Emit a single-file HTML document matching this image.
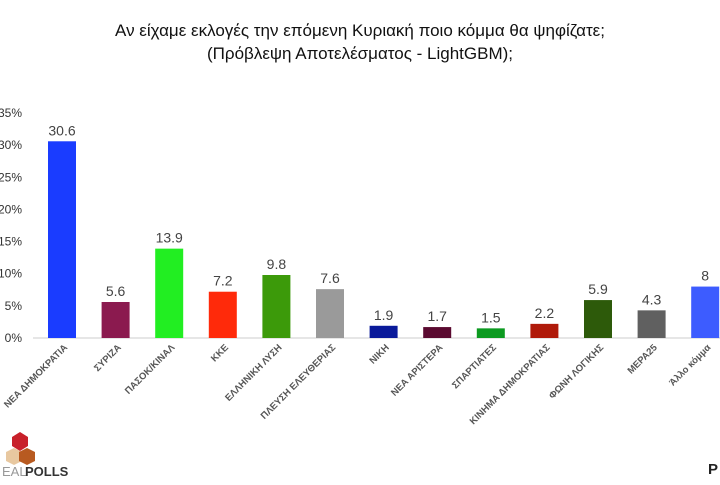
<!DOCTYPE html>
<html><head><meta charset="utf-8">
<style>
body{margin:0;background:#fff;width:720px;height:480px;overflow:hidden;font-family:"Liberation Sans",sans-serif;}
</style></head><body>
<svg id="c" width="720" height="480">
<text x="360" y="36" text-anchor="middle" font-size="17" fill="#111">Αν είχαμε εκλογές την επόμενη Κυριακή ποιο κόμμα θα ψηφίζατε;</text>
<text x="360" y="59" text-anchor="middle" font-size="17" fill="#111">(Πρόβλεψη Αποτελέσματος - LightGBM);</text>
<g id="axis"></g><g id="bars"></g>
<g>
<polygon points="20,432 28,437 28,446 20,451 12,446 12,437" fill="#c8202a"/>
<polygon points="14,448 22,452 22,461 14,465 6,461 6,452" fill="#e8c8a0"/>
<polygon points="27,448 35,452 35,461 27,465 19,461 19,452" fill="#b85a20"/>
<text x="2" y="476" font-size="13" fill="#999">EAL</text><text x="25" y="476" font-size="13" font-weight="bold" fill="#333">POLLS</text>
</g>
<text x="708" y="474" font-size="15" font-weight="bold" fill="#222">P</text>
</svg>
<script>
const categories=["ΝΕΑ ΔΗΜΟΚΡΑΤΙΑ","ΣΥΡΙΖΑ","ΠΑΣΟΚ/ΚΙΝΑΛ","ΚΚΕ","ΕΛΛΗΝΙΚΗ ΛΥΣΗ","ΠΛΕΥΣΗ ΕΛΕΥΘΕΡΙΑΣ","ΝΙΚΗ","ΝΕΑ ΑΡΙΣΤΕΡΑ","ΣΠΑΡΤΙΑΤΕΣ","ΚΙΝΗΜΑ ΔΗΜΟΚΡΑΤΙΑΣ","ΦΩΝΗ ΛΟΓΙΚΗΣ","ΜΕΡΑ25","Άλλο κόμμα"];
const values=[30.6,5.6,13.9,7.2,9.8,7.6,1.9,1.7,1.5,2.2,5.9,4.3,8];
const valueLabels=["30.6","5.6","13.9","7.2","9.8","7.6","1.9","1.7","1.5","2.2","5.9","4.3","8"];
const colors=["#1a3cff","#8b1a4f","#22ee22","#ff2a0a","#3c9a0a","#9a9a9a","#0a1a9a","#5a0a30","#0c9a20","#b01a0a","#2d5a0a","#606060","#3d5cff"];
const ticks=[0,5,10,15,20,25,30,35];
const NS="http://www.w3.org/2000/svg";
const y0=338,pxPer=225/35;
const y=v=>y0-v*pxPer;
const x=i=>62+i*53.6;
const ax=document.getElementById('axis'),bg=document.getElementById('bars');
function mk(t,a,p){const e=document.createElementNS(NS,t);for(const k in a)e.setAttribute(k,a[k]);p.appendChild(e);return e;}
ticks.forEach(t=>{const e=mk('text',{x:22,y:y(t)+4,'text-anchor':'end','font-size':12,fill:'#333'},ax);e.textContent=t+'%';

});
const al=mk('line',{x1:33,x2:720,y1:y0,y2:y0,stroke:'#ddd','stroke-width':1.5},ax);


values.forEach((v,i)=>{
const r=mk('rect',{x:x(i)-14,y:y(v),width:28,height:y0-y(v),fill:colors[i]},bg);


const t=mk('text',{x:x(i),y:y(v)-6,'text-anchor':'middle','font-size':14,fill:'#444'},bg);t.textContent=valueLabels[i];


const c=mk('text',{x:x(i)+6,y:y0+10,'text-anchor':'end','font-size':9.5,'font-weight':'bold',fill:'#555',transform:`rotate(-45 ${x(i)+6} ${y0+10})`},bg);c.textContent=categories[i];


});
</script>
</body></html>
